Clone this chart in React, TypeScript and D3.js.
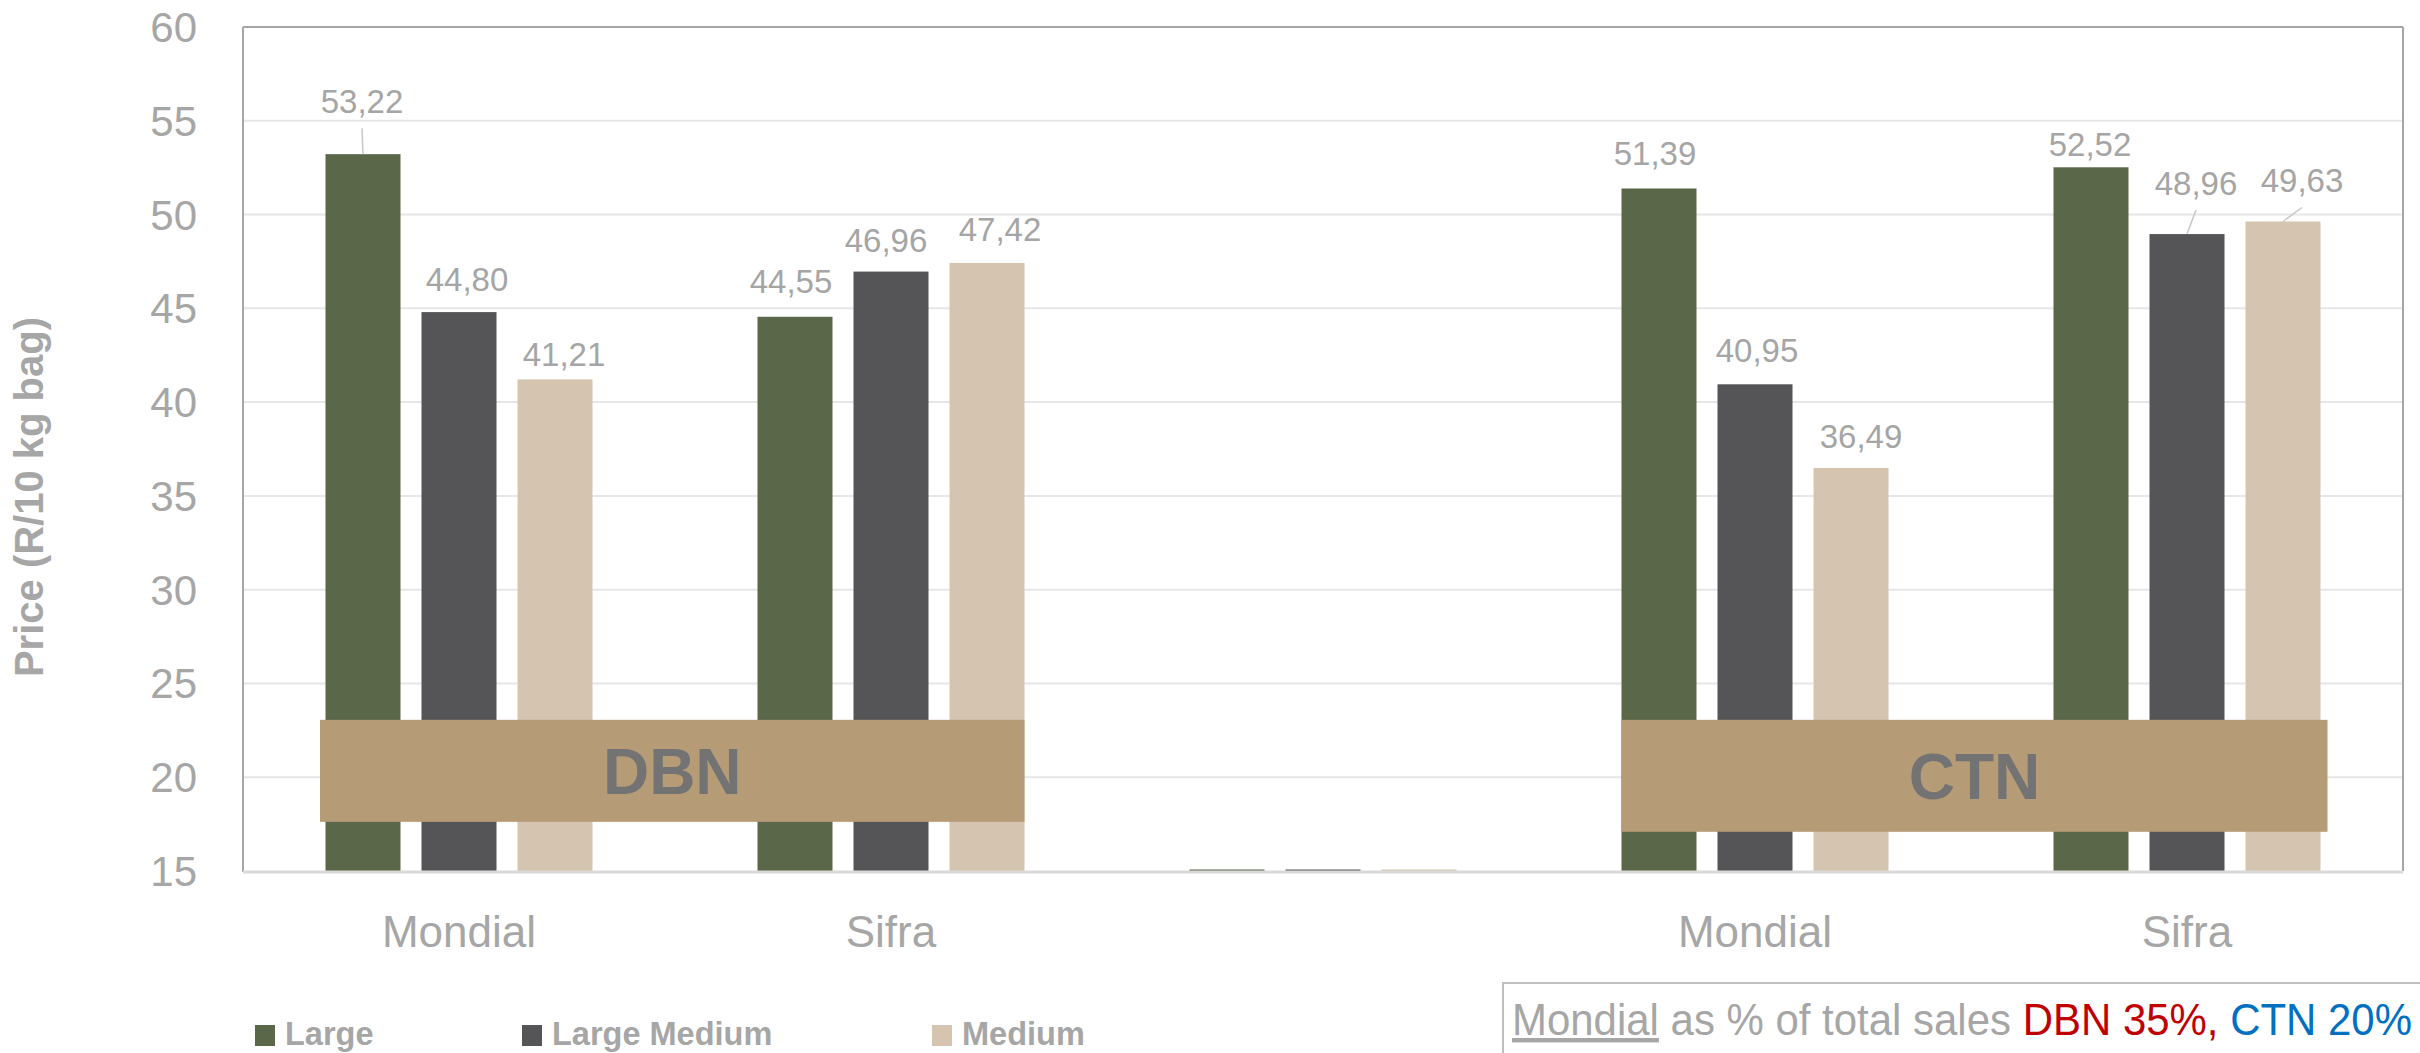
import React from "react";
import * as d3 from "d3";

// ---- data ----
const categories = ["Mondial", "Sifra", "", "Mondial", "Sifra"];
const seriesNames = ["Large", "Large Medium", "Medium"];
const largeValues = [53.22, 44.55, 15.08, 51.39, 52.52];
const largeMediumValues = [44.8, 46.96, 15.08, 40.95, 48.96];
const mediumValues = [41.21, 47.42, 15.08, 36.49, 49.63];
const yTicks = [15, 20, 25, 30, 35, 40, 45, 50, 55, 60];
const regionNames = ["DBN", "CTN"];
const regionFrom = [0, 3];
const regionTo = [1, 4];
const regionTop = [23.06, 23.06];
const regionBottom = [17.62, 17.09];
const labelledCategories = [true, true, false, true, true];

// ---- layout / style ----
const W = 2420;
const H = 1053;
const plot = { left: 243, right: 2403, top: 27, bottom: 871 };
const colors = ["#5A6748", "#555557", "#D5C4AF"];
const labelColor = "#A5A5A5";
// manual label nudges (dx from bar centre, gap between label baseline and bar top)
const labelDx = [
  [-1, -4, 0, -4, -1],
  [8, -5, 0, 2, 9],
  [9, 13, 0, 10, 19],
];
const labelGap = [
  [41, 24, 0, 23, 11],
  [21, 20, 0, 22, 39],
  [13, 22, 0, 20, 29],
];
const leader = [
  [true, false, false, false, false],
  [false, false, false, false, true],
  [false, false, false, false, true],
];
const regionPadL = [5.5, 0];
const regionPadR = [0, 7];
const legendX = [255, 522, 932];

const font = "'Liberation Sans', Arial, sans-serif";

export default function App() {
  const series = [largeValues, largeMediumValues, mediumValues];
  const x = d3
    .scaleBand<number>()
    .domain(categories.map((_, i) => i))
    .range([plot.left, plot.right])
    .paddingInner(0)
    .paddingOuter(0);
  const y = d3.scaleLinear().domain([15, 60]).range([plot.bottom, plot.top]);
  const band = x.bandwidth();
  const barW = band * (75 / 432);
  const step = band * (96 / 432);
  const center = (ci: number) => (x(ci) as number) + band / 2;
  const barCenter = (ci: number, si: number) => center(ci) + (si - 1) * step;
  const fmt = (v: number) => d3.format(".2f")(v).replace(".", ",");

  return (
    <svg
      width={W}
      height={H}
      style={{ position: "absolute", left: 0, top: 0, background: "#fff" }}
      fontFamily={font}
    >
      <rect x={0} y={0} width={W} height={H} fill="#fff" />
      {/* gridlines */}
      {yTicks.map((t) =>
        t === 15 || t === 60 ? null : (
          <line
            key={"g" + t}
            x1={plot.left}
            x2={plot.right}
            y1={y(t)}
            y2={y(t)}
            stroke="#E6E6E6"
            strokeWidth={2}
          />
        )
      )}
      {/* frame */}
      <line x1={plot.left} x2={plot.right} y1={y(60)} y2={y(60)} stroke="#A6A6A6" strokeWidth={2} />
      <line x1={plot.right} x2={plot.right} y1={y(60)} y2={y(15)} stroke="#A6A6A6" strokeWidth={2} />
      <line x1={plot.left} x2={plot.left} y1={y(60)} y2={y(15) + 1} stroke="#A6A6A6" strokeWidth={2} />
      {/* bars */}
      {series.map((vals, si) =>
        vals.map((v, ci) => (
          <rect
            key={`b${si}-${ci}`}
            x={barCenter(ci, si) - barW / 2}
            y={y(v)}
            width={barW}
            height={y(15) - y(v)}
            fill={colors[si]}
          />
        ))
      )}
      {/* x axis line */}
      <line x1={plot.left} x2={plot.right} y1={y(15) + 1} y2={y(15) + 1} stroke="#D9D9D9" strokeWidth={3} />
      {/* y tick labels */}
      {yTicks.map((t) => (
        <text
          key={"t" + t}
          x={197}
          y={y(t) + 15}
          textAnchor="end"
          fontSize={42}
          fill="#A6A6A6"
        >
          {t}
        </text>
      ))}
      {/* category labels */}
      {categories.map((c, ci) => (
        <text key={"c" + ci} x={center(ci)} y={947} textAnchor="middle" fontSize={44} fill="#A6A6A6">
          {c}
        </text>
      ))}
      {/* data labels */}
      {series.map((vals, si) =>
        vals.map((v, ci) => {
          if (!labelledCategories[ci]) return null;
          const lx = barCenter(ci, si) + labelDx[si][ci];
          const top = y(v);
          const by = top - labelGap[si][ci];
          return (
            <g key={`l${si}-${ci}`}>
              {leader[si][ci] && (
                <line
                  x1={lx}
                  y1={by + 15}
                  x2={barCenter(ci, si)}
                  y2={top}
                  stroke="#C8C8C8"
                  strokeWidth={1.5}
                />
              )}
              <text x={lx} y={by} textAnchor="middle" fontSize={33} fill={labelColor}>
                {fmt(v)}
              </text>
            </g>
          );
        })
      )}
      {/* region bands */}
      {regionNames.map((name, ri) => {
        const x0 = barCenter(regionFrom[ri], 0) - barW / 2 - regionPadL[ri];
        const x1 = barCenter(regionTo[ri], 2) + barW / 2 + regionPadR[ri];
        const y0 = y(regionTop[ri]);
        const y1 = y(regionBottom[ri]);
        return (
          <g key={"r" + name}>
            <rect x={x0} y={y0} width={x1 - x0} height={y1 - y0} fill="#B69B77" />
            <text
              x={(x0 + x1) / 2}
              y={(y0 + y1) / 2 + 23.5}
              textAnchor="middle"
              fontSize={64}
              fontWeight="bold"
              fill="#737373"
            >
              {name}
            </text>
          </g>
        );
      })}
      {/* y axis title */}
      <text
        transform={`translate(43, 497) rotate(-90)`}
        textAnchor="middle"
        fontSize={40}
        fontWeight="bold"
        fill="#A6A6A6"
      >
        Price (R/10 kg bag)
      </text>
      {/* legend */}
      {seriesNames.map((n, si) => {
        const lx = legendX[si];
        return (
          <g key={"lg" + si}>
            <rect x={lx} y={1025} width={20} height={21} fill={colors[si]} />
            <text x={lx + 30} y={1045} fontSize={32.5} fontWeight="bold" fill="#A6A6A6">
              {n}
            </text>
          </g>
        );
      })}
      {/* note box */}
      <rect x={1503} y={983} width={1000} height={200} fill="#fff" stroke="#BFBFBF" strokeWidth={2} />
      <text
        x={1512}
        y={1035}
        fontSize={44}
        fill="#A6A6A6"
        textLength={900}
        lengthAdjust="spacingAndGlyphs"
      >
        <tspan textDecoration="underline" style={{ textDecoration: "underline" }}>
          Mondial
        </tspan>
        <tspan> as % of total sales </tspan>
        <tspan fill="#C00000">DBN 35%,</tspan>
        <tspan> </tspan>
        <tspan fill="#0070C0">CTN 20%</tspan>
      </text>
    </svg>
  );
}
